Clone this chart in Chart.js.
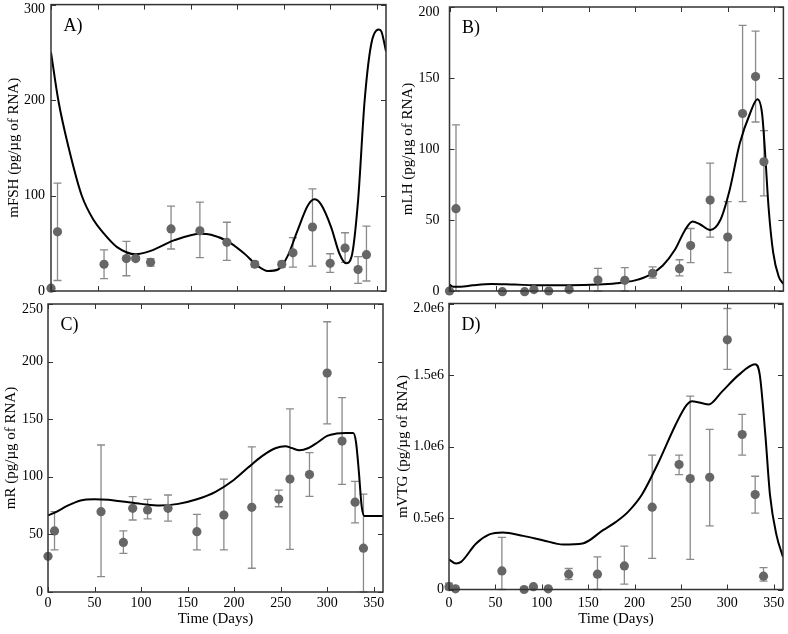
<!DOCTYPE html>
<html>
<head>
<meta charset="utf-8">
<script src="https://cdn.jsdelivr.net/npm/chart.js@4.4.1/dist/chart.umd.min.js"></script>
<style>
  html, body { margin: 0; padding: 0; background: #fff; }
  body { width: 788px; height: 634px; position: relative; overflow: hidden; }
  .panel { position: absolute; }
</style>
</head>
<body>
<div class="panel" style="left:0;top:0;width:394px;height:310px"><canvas id="chartA"></canvas></div>
<div class="panel" style="left:394px;top:0;width:394px;height:310px"><canvas id="chartB"></canvas></div>
<div class="panel" style="left:0;top:295px;width:394px;height:339px"><canvas id="chartC"></canvas></div>
<div class="panel" style="left:394px;top:295px;width:394px;height:339px"><canvas id="chartD"></canvas></div>
<script>
// sampling days (same for all four panels)
const sampleDays = [0, 7, 57, 81, 91, 107, 129, 160, 189, 219, 248, 260, 281, 300, 316, 330, 339];

// A) mFSH
const fshMean = [3, 62, 28, 34, 34, 30, 65, 63, 51, 28, 28, 40, 67, 29, 45, 22.5, 38];
const fshLo   = [3, 11, 13, 16, 32, 26, 44, 35, 32, 25, 25, 25, 26, 19.5, 30, 8, 10.5];
const fshHi   = [3, 113, 43, 52, 36, 34, 89, 93, 72, 31, 31, 56, 107, 39, 61, 36, 68];
const fshCurveDays = [0, 8, 19, 33, 46, 57, 71, 91, 107, 132, 161, 172, 190, 208, 220, 233, 244, 254, 265, 276, 283, 290, 301, 310, 317, 323, 330, 337, 344, 352, 355, 360];
const fshCurve     = [250, 199, 150, 100, 74, 60, 46, 38.5, 42, 53, 60, 59, 52, 39, 28, 21, 22.5, 36, 63.5, 89.5, 96, 91, 67, 39, 29, 36, 95, 199, 258, 274, 272, 251];

// B) mLH
const lhMean = [0, 58, -0.5, -0.5, 1, 0, 1, 7.7, 7.5, 12.5, 15.7, 32, 64, 38, 125, 151, 91];
const lhLo   = [0, 0, -0.5, -0.5, 1, 0, 1, 0, 0, 9, 10.6, 20, 38, 13, 63, 119, 67];
const lhHi   = [0, 117, -0.5, -0.5, 1, 0, 1, 16, 16.4, 17, 22, 44, 90, 63, 187, 183, 113];
const lhCurveDays = [0, 4, 12, 25, 45, 70, 100, 130, 160, 180, 200, 215, 230, 243, 254, 262, 270, 281, 292, 302, 313, 324, 332, 337, 340, 344, 349, 355, 360];
const lhCurve     = [4.5, 3, 3, 4, 5, 4.5, 4, 4, 4.5, 5.5, 7.5, 11, 18, 29, 43, 49, 47, 43, 50, 71, 104, 125, 135, 125, 100, 59, 27, 10, 5];

// C) mR
const rMean = [31, 53, 69.7, 43, 72.6, 71.2, 72.6, 52.4, 66.8, 73.5, 80.7, 98, 102, 190, 131, 78, 38];
const rLo   = [31, 36.5, 13.3, 33.6, 62.5, 63.4, 61.6, 36.5, 36.5, 20.6, 74, 37, 83, 146, 93.5, 60, 0];
const rHi   = [31, 69.7, 127.6, 53, 82.8, 80.4, 84.2, 67.4, 98, 126, 88.5, 159, 121, 234.6, 168.7, 96, 85];
const rCurveDays = [0, 10, 20, 35, 50, 65, 80, 100, 120, 140, 160, 180, 200, 215, 230, 245, 255, 262, 270, 280, 290, 300, 310, 320, 328, 331, 334, 337, 340, 350, 360];
const rCurve     = [66.5, 70, 74.5, 79.5, 80.5, 80, 78.5, 76.5, 75, 76.5, 80.5, 87, 97.5, 108, 118, 125, 126.5, 125, 123, 125, 130, 135.5, 137.5, 138, 138, 130, 105, 75, 66, 66, 66];

// D) mVTG
const vtgMean = [0.02e6, 0.005e6, 0.13e6, 0, 0.02e6, 0.005e6, 0.107e6, 0.107e6, 0.165e6, 0.576e6, 0.874e6, 0.776e6, 0.785e6, 1.746e6, 1.084e6, 0.664e6, 0.093e6];
const vtgLo   = [0, 0.005e6, 0, 0, 0.02e6, 0.005e6, 0.07e6, 0, 0.037e6, 0.217e6, 0.804e6, 0.21e6, 0.445e6, 1.54e6, 0.94e6, 0.534e6, 0.058e6];
const vtgHi   = [0.045e6, 0.005e6, 0.365e6, 0, 0.02e6, 0.005e6, 0.147e6, 0.228e6, 0.303e6, 0.94e6, 0.94e6, 1.352e6, 1.12e6, 1.965e6, 1.224e6, 0.792e6, 0.153e6];
const vtgCurveDays = [0, 7.6, 13, 29, 43.5, 58, 80, 101, 123, 144, 166, 180, 193, 208, 226, 244, 256, 262, 280, 294, 312, 330, 335, 341, 346, 353, 360];
const vtgCurve     = [0.21e6, 0.182e6, 0.193e6, 0.32e6, 0.385e6, 0.399e6, 0.375e6, 0.345e6, 0.315e6, 0.322e6, 0.415e6, 0.473e6, 0.543e6, 0.664e6, 0.892e6, 1.149e6, 1.289e6, 1.317e6, 1.294e6, 1.382e6, 1.499e6, 1.576e6, 1.499e6, 1.079e6, 0.66e6, 0.38e6, 0.228e6];

Chart.defaults.font.family = '"Liberation Serif", "Times New Roman", serif';
Chart.defaults.color = '#000';

// frame, inward ticks, error bars and panel letter
function decor(label, lo, hi) {
    return {
        id: 'decor',
        beforeDatasetsDraw(chart) {
            const {ctx, scales: {x, y}} = chart;
            ctx.save();
            ctx.strokeStyle = '#8a8a8a';
            ctx.lineWidth = 1.3;
            sampleDays.forEach((d, i) => {
                const px = x.getPixelForValue(d);
                const pLo = y.getPixelForValue(lo[i]);
                const pHi = y.getPixelForValue(hi[i]);
                if (Math.abs(pLo - pHi) < 2) return;
                ctx.beginPath();
                ctx.moveTo(px, pLo); ctx.lineTo(px, pHi);
                ctx.moveTo(px - 4, pLo); ctx.lineTo(px + 4, pLo);
                ctx.moveTo(px - 4, pHi); ctx.lineTo(px + 4, pHi);
                ctx.stroke();
            });
            ctx.restore();
        },
        afterDraw(chart) {
            const {ctx, chartArea: a, scales: {x, y}} = chart;
            ctx.save();
            ctx.strokeStyle = '#333';
            ctx.lineWidth = 1;
            ctx.beginPath();
            x.ticks.forEach(t => {
                const px = Math.round(x.getPixelForValue(t.value)) + 0.5;
                ctx.moveTo(px, a.bottom); ctx.lineTo(px, a.bottom - 5);
                ctx.moveTo(px, a.top); ctx.lineTo(px, a.top + 5);
            });
            y.ticks.forEach(t => {
                const py = Math.round(y.getPixelForValue(t.value)) + 0.5;
                ctx.moveTo(a.left, py); ctx.lineTo(a.left + 5, py);
                ctx.moveTo(a.right, py); ctx.lineTo(a.right - 5, py);
            });
            ctx.stroke();
            ctx.lineWidth = 1.5;
            ctx.strokeRect(a.left, a.top, a.right - a.left, a.bottom - a.top);
            ctx.fillStyle = '#000';
            ctx.font = '18px "Liberation Serif", serif';
            ctx.textBaseline = 'alphabetic';
            ctx.fillText(label, a.left + 12.5, a.top + 26);
            ctx.restore();
        }
    };
}

function makePanel(id, p) {
    return new Chart(document.getElementById(id), {
        type: 'scatter',
        data: {
            datasets: [{
                data: sampleDays.map((d, i) => ({x: d, y: p.mean[i]})),
                backgroundColor: '#666',
                borderWidth: 0,
                pointRadius: 4.6,
                clip: false
            },
            {
                type: 'line',
                data: p.curveDays.map((d, i) => ({x: d, y: p.curve[i]})),
                borderColor: '#000',
                borderWidth: 2,
                pointRadius: 0,
                cubicInterpolationMode: 'monotone',
                fill: false
            }]
        },
        options: {
            animation: false,
            responsive: true,
            maintainAspectRatio: false,
            layout: { padding: p.pad },
            plugins: { legend: { display: false }, tooltip: { enabled: false } },
            scales: {
                x: {
                    type: 'linear',
                    min: 0,
                    max: 360,
                    grid: { display: false, drawTicks: false },
                    border: { display: false },
                    ticks: {
                        display: p.showX,
                        stepSize: 50,
                        includeBounds: false,
                        maxRotation: 0,
                        padding: p.xPad,
                        font: { size: 14 }
                    },
                    title: {
                        display: p.showX,
                        text: 'Time (Days)',
                        font: { size: 15 },
                        padding: { top: 0, bottom: 6 }
                    },
                    afterFit(s) { s.height = p.xH; s.paddingLeft = 0; s.paddingRight = 0; }
                },
                y: {
                    min: 0,
                    max: p.yMax,
                    grid: { display: false, drawTicks: false },
                    border: { display: false },
                    ticks: {
                        stepSize: p.yStep,
                        padding: p.yPad,
                        font: { size: 14, lineHeight: 0.72 },
                        // top label sits a little lower, as in the original
                        callback: v => v === p.yMax ? ['', p.fmt(v)] : p.fmt(v)
                    },
                    title: {
                        display: true,
                        text: p.title,
                        font: { size: 15 },
                        padding: { top: p.titlePad, bottom: 0 }
                    },
                    afterFit(s) { s.width = p.yW; s.paddingTop = 0; s.paddingBottom = 0; }
                }
            }
        },
        plugins: [decor(p.label, p.lo, p.hi)]
    });
}

const plain = v => String(v);
const sci = v => v === 0 ? '0' : (v / 1e6).toFixed(1) + 'e6';

makePanel('chartA', {
    label: 'A)', title: 'mFSH (pg/\u00b5g of RNA)',
    mean: fshMean, lo: fshLo, hi: fshHi, curveDays: fshCurveDays, curve: fshCurve,
    yMax: 300, yStep: 100, fmt: plain,
    pad: {top: 3, right: 8, left: 0, bottom: 0}, yW: 51, xH: 19, showX: false, xPad: 3, yPad: 6, titlePad: 5
});
makePanel('chartB', {
    label: 'B)', title: 'mLH (pg/\u00b5g of RNA)',
    mean: lhMean, lo: lhLo, hi: lhHi, curveDays: lhCurveDays, curve: lhCurve,
    yMax: 200, yStep: 50, fmt: plain,
    pad: {top: 7, right: 4, left: 0, bottom: 0}, yW: 55.5, xH: 19, showX: false, xPad: 3, yPad: 10, titlePad: 5
});
makePanel('chartC', {
    label: 'C)', title: 'mR (pg/\u00b5g of RNA)',
    mean: rMean, lo: rLo, hi: rHi, curveDays: rCurveDays, curve: rCurve,
    yMax: 250, yStep: 50, fmt: plain,
    pad: {top: 9, right: 11, left: 0, bottom: 0}, yW: 48, xH: 42, showX: true, xPad: 3, yPad: 5, titlePad: 2
});
makePanel('chartD', {
    label: 'D)', title: 'mVTG (pg/\u00b5g of RNA)',
    mean: vtgMean, lo: vtgLo, hi: vtgHi, curveDays: vtgCurveDays, curve: vtgCurve,
    yMax: 2e6, yStep: 0.5e6, fmt: sci,
    pad: {top: 8.5, right: 5, left: 0, bottom: 0}, yW: 55, xH: 44.5, showX: true, xPad: 5.5, yPad: 5, titlePad: 0
});
</script>
</body>
</html>
